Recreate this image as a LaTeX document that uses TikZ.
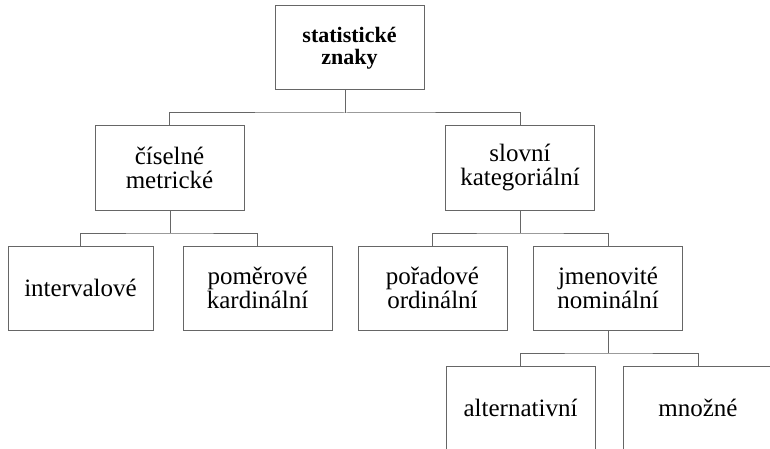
\documentclass[tikz,border=0pt]{standalone}
\usepackage{fontspec}
\setmainfont{Liberation Serif}[Ligatures=TeX]
\usepackage{tikz}
\usetikzlibrary{positioning, calc}
\definecolor{linegray}{gray}{0.4}

\begin{document}
\begin{tikzpicture}[
  x=1pt, y=-1pt,
  font=\rmfamily\fontsize{25}{24}\selectfont,
  box/.style={
    draw=linegray,
    line width=1pt,
    align=center,
    minimum width=149pt,
    minimum height=84pt,
    inner sep=0pt
  },
  rootbox/.style={box,font=\rmfamily\fontsize{22}{21.5}\selectfont\bfseries},
  link/.style={draw=linegray,line width=1pt}
]

\path[use as bounding box,fill=white] (0,0) rectangle (770,449);
\clip (0,0) rectangle (770,449);

\node[rootbox] (top) at (349.5,48) {statistické\\znaky};

\node[box] (cis) at (169.5,168) {číselné\\metrické};
\node[box] (slov) at (520,168) {slovní\\kategoriální};

\node[box,minimum width=145pt] (interv) at (80.5,288) {intervalové};
\node[box] (pomer) at (257.5,288) {poměrové\\kardinální};
\node[box] (porad) at (432.5,288) {pořadové\\ordinální};
\node[box] (jmen) at (608,288) {jmenovité\\nominální};

\node[box] (alter) at (520.5,408) {alternativní};
\node[box] (mnoz) at (698,408) {množné};

% bus points of the tree
\coordinate (b1) at (345.5,113);
\coordinate (b2) at (170.5,233);
\coordinate (b3) at (520,233);
\coordinate (b4) at (608,353);

\draw[link] (b1 |- top.south) -- (b1);
\draw[link] (cis.north) |- (b1) -| (slov.north);

\draw[link] (b2 |- cis.south) -- (b2);
\draw[link] (interv.north) |- (b2) -| (pomer.north);

\draw[link] (b3 |- slov.south) -- (b3);
\draw[link] (porad.north) |- (b3) -| (jmen.north);

\draw[link] (b4 |- jmen.south) -- (b4);
\draw[link] (alter.north) |- (b4) -| (mnoz.north);

\end{tikzpicture}
\end{document}
